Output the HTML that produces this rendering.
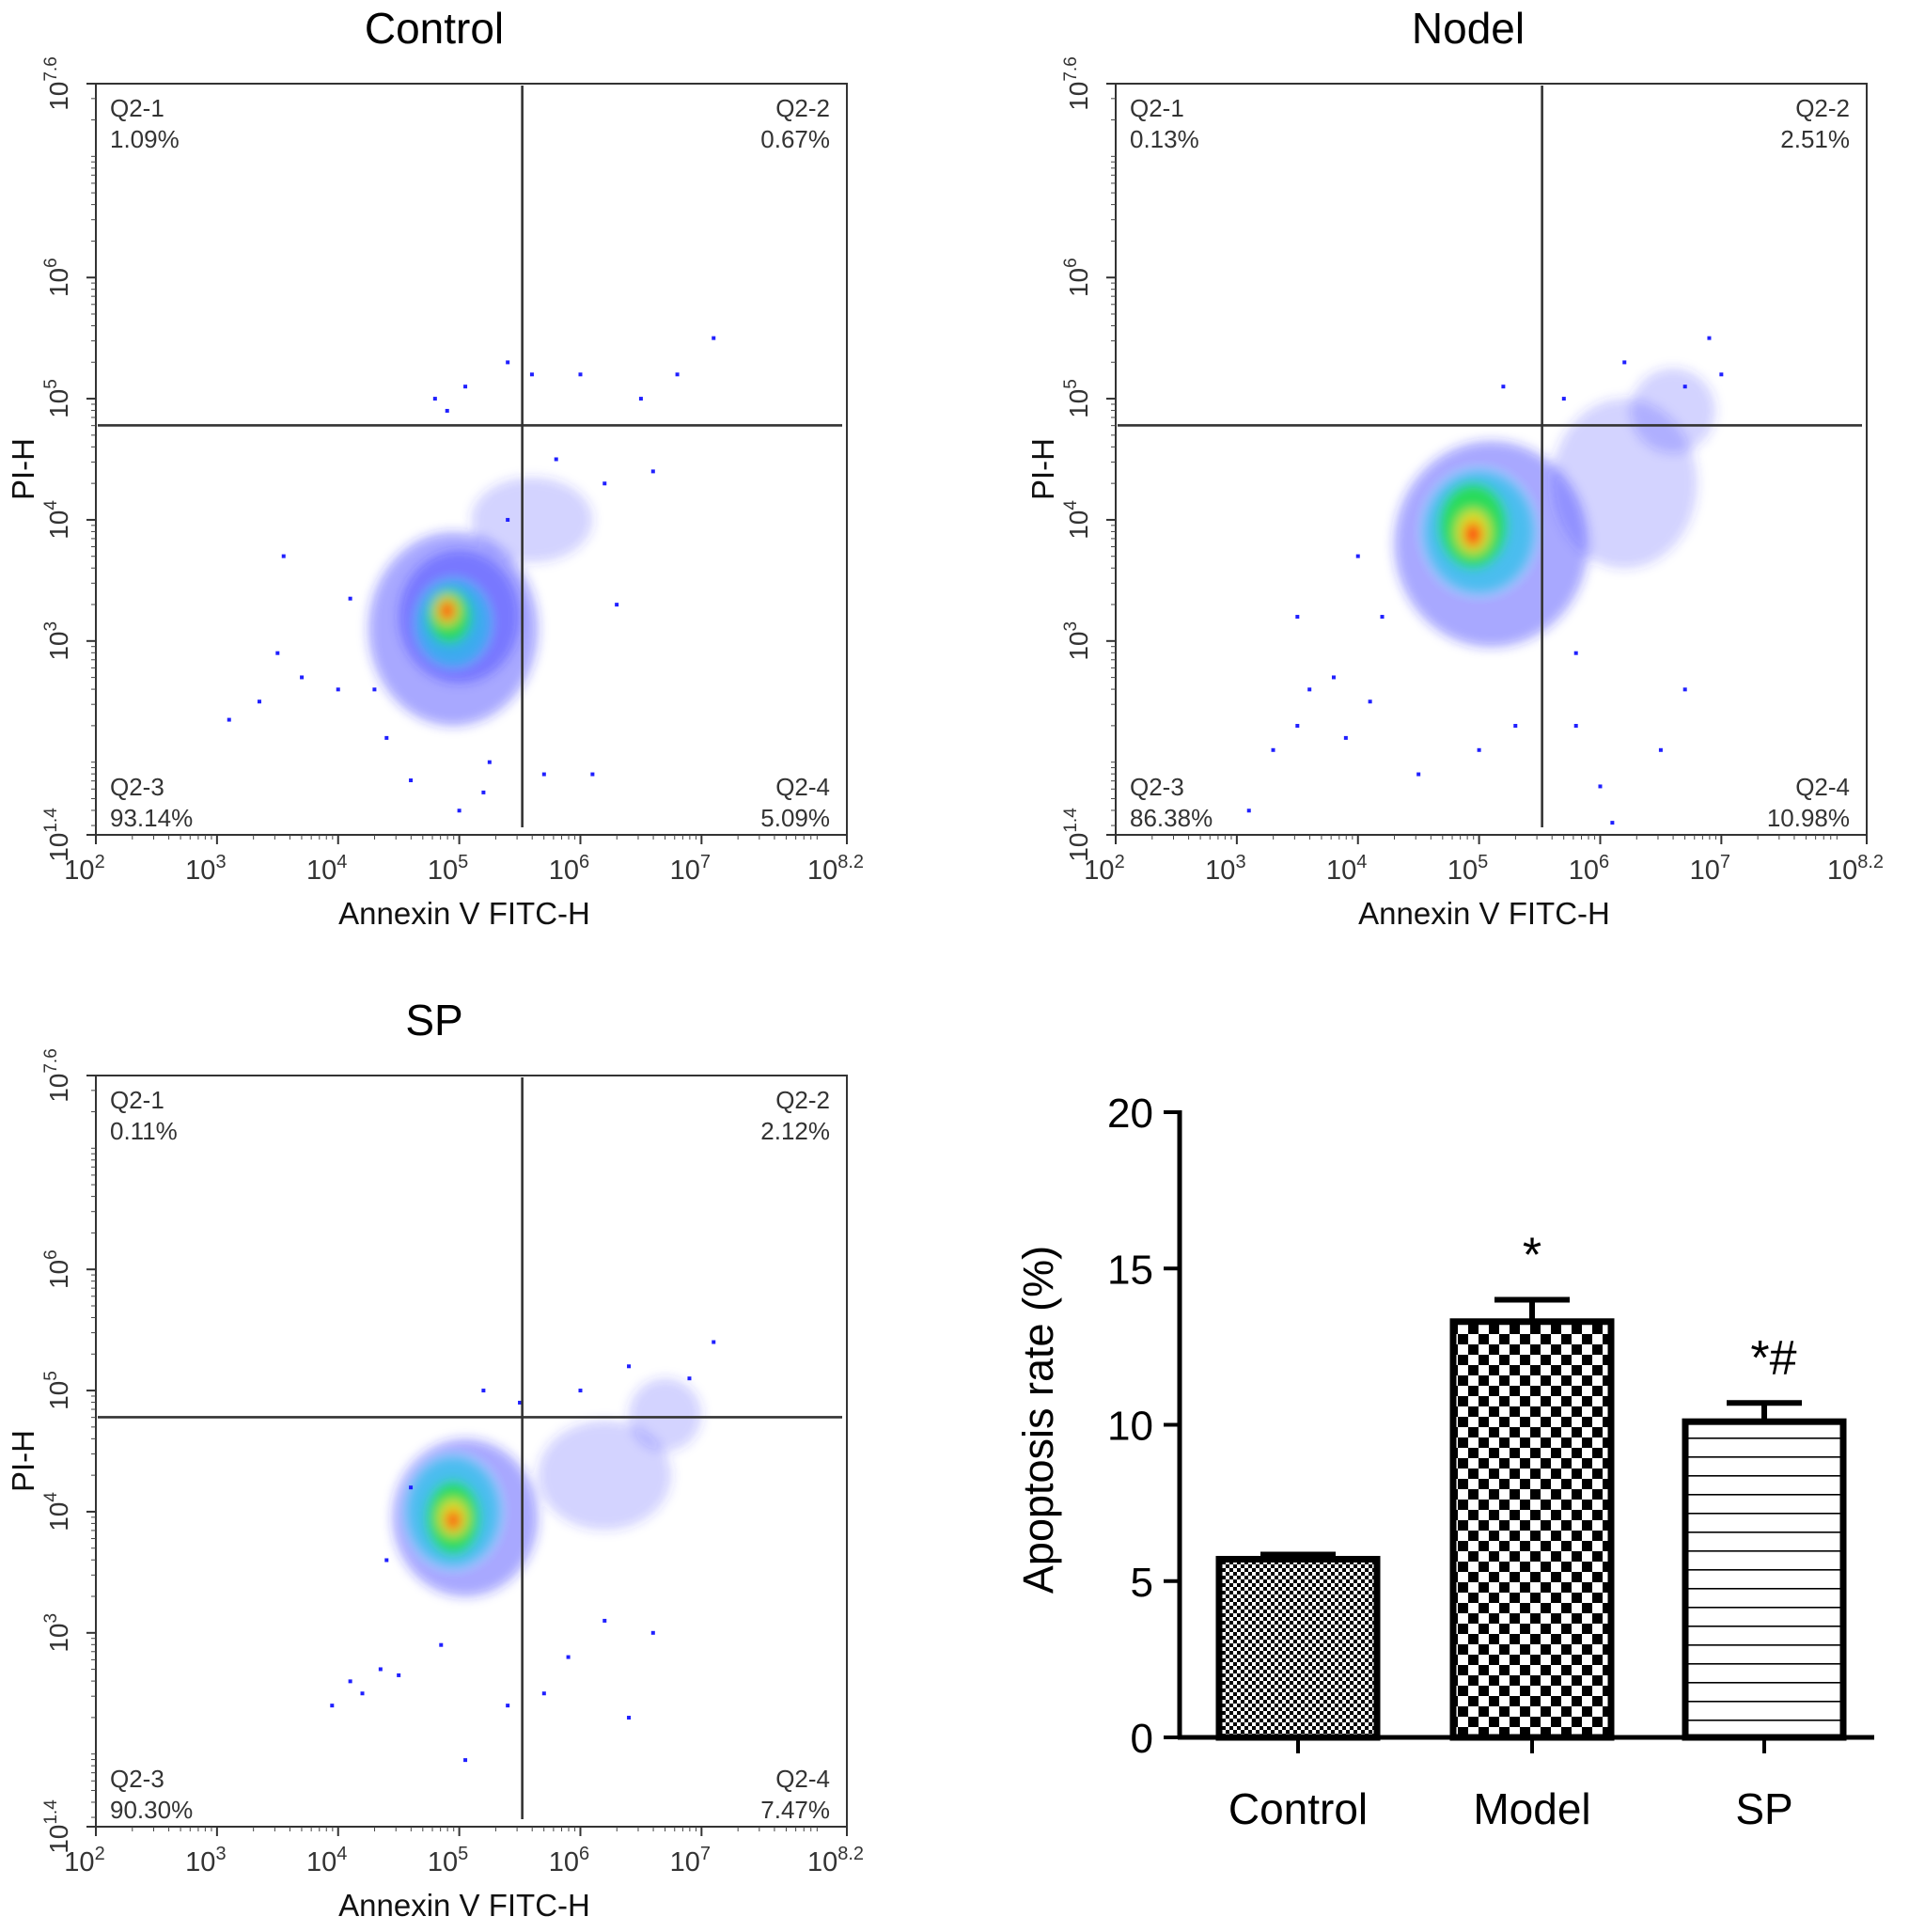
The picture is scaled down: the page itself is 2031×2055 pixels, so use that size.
<!DOCTYPE html>
<html><head><meta charset="utf-8"><style>
html,body{margin:0;padding:0;background:#fff;}
svg{display:block;font-family:"Liberation Sans",Arial,sans-serif;}
</style></head><body>
<svg id="fig" width="2031" height="2055" viewBox="0 0 2031 2055" xmlns="http://www.w3.org/2000/svg">
<defs>
<filter id="soft" x="-50%" y="-50%" width="200%" height="200%"><feGaussianBlur stdDeviation="6"/></filter>
<pattern id="pCtrl" width="8" height="8" patternUnits="userSpaceOnUse"><rect width="8" height="8" fill="#fff"/><rect width="4" height="4" fill="#000"/><rect x="4" y="4" width="4" height="4" fill="#000"/></pattern>
<pattern id="pModel" width="22" height="22" patternUnits="userSpaceOnUse"><rect width="22" height="22" fill="#fff"/><rect x="0" y="0" width="11" height="11" fill="#000"/><rect x="11" y="11" width="11" height="11" fill="#000"/></pattern>
<pattern id="pSP" width="20" height="20" patternUnits="userSpaceOnUse"><rect width="20" height="20" fill="#fff"/><rect y="9" width="20" height="1.6" fill="#000"/></pattern>
</defs>
<g id="root"></g>
</svg>
<script>
// ---------- Flow cytometry data ----------
const flowTitles = ["Control", "Nodel", "SP"];
const quadLabels = ["Q2-1", "Q2-2", "Q2-3", "Q2-4"];
const quadPercents = [
  ["1.09%", "0.67%", "93.14%", "5.09%"],
  ["0.13%", "2.51%", "86.38%", "10.98%"],
  ["0.11%", "2.12%", "90.30%", "7.47%"]
];
const gateX = [5.52, 5.52, 5.52];
const gateY = [4.78, 4.78, 4.78];
// blobs: [logX, logY, radiusX(decades), radiusY(decades), level]
const blobsControl = [[4.95,3.1,0.7,0.8,0],[5.0,3.2,0.5,0.55,0],[4.95,3.15,0.3,0.35,1],[4.92,3.2,0.18,0.22,2],[4.9,3.25,0.1,0.12,3],[4.9,3.25,0.06,0.08,4],[5.6,4.0,0.5,0.35,5]];
const blobsNodel = [[5.1,3.8,0.8,0.85,0],[5.0,3.9,0.45,0.5,1],[4.95,3.95,0.28,0.35,2],[4.95,3.9,0.14,0.18,3],[4.95,3.88,0.07,0.1,4],[6.2,4.3,0.6,0.7,5],[6.6,4.9,0.35,0.35,5]];
const blobsSP = [[5.05,3.95,0.6,0.65,0],[4.95,4.0,0.38,0.45,1],[4.95,3.95,0.22,0.3,2],[4.95,3.95,0.12,0.15,3],[4.95,3.93,0.06,0.08,4],[6.2,4.3,0.55,0.45,5],[6.7,4.8,0.3,0.3,5]];
const ptsControl = [[3.1,2.35],[3.35,2.5],[3.5,2.9],[3.7,2.7],[4.0,2.6],[3.55,3.7],[4.1,3.35],[4.3,2.6],[4.6,1.85],[4.8,5.0],[5.05,5.1],[5.6,5.2],[6.0,5.2],[6.5,5.0],[6.8,5.2],[7.1,5.5],[5.8,4.5],[6.2,4.3],[6.6,4.4],[5.4,5.3],[4.9,4.9],[5.25,2.0],[5.0,1.6],[5.2,1.75],[5.7,1.9],[6.1,1.9],[4.4,2.2],[5.4,4.0],[6.3,3.3]];
const ptsNodel = [[3.1,1.6],[3.3,2.1],[3.5,2.3],[3.6,2.6],[3.8,2.7],[3.9,2.2],[4.1,2.5],[4.2,3.2],[4.0,3.7],[3.5,3.2],[4.5,1.9],[5.0,2.1],[5.3,2.3],[5.8,2.3],[6.0,1.8],[6.5,2.1],[6.1,1.5],[5.7,5.0],[6.2,5.3],[6.9,5.5],[7.0,5.2],[6.7,5.1],[5.2,5.1],[5.8,2.9],[6.7,2.6]];
const ptsSP = [[3.95,2.4],[4.1,2.6],[4.2,2.5],[4.35,2.7],[4.5,2.65],[4.85,2.9],[5.05,1.95],[5.4,2.4],[5.7,2.5],[5.9,2.8],[6.4,2.3],[6.2,3.1],[6.6,3.0],[6.9,5.1],[7.1,5.4],[6.4,5.2],[5.2,5.0],[5.5,4.9],[6.0,5.0],[4.6,4.2],[4.4,3.6]];
const xTickExp = ["2","3","4","5","6","7","8.2"];
const xTickVal = [2,3,4,5,6,7,8.2];
const yTickExp = ["1.4","3","4","5","6","7.6"];
const yTickVal = [1.4,3,4,5,6,7.6];
const flowBlobs = [blobsControl, blobsNodel, blobsSP];
const flowPts = [ptsControl, ptsNodel, ptsSP];
const panelOrigin = [[102,89],[1187,89],[102,1144]];
const titleOffset = [360, 375, 360];

// ---------- Bar chart data ----------
const barCats = ["Control", "Model", "SP"];
const barVals = [5.7, 13.3, 10.1];
const barErr = [0.15, 0.7, 0.6];
const barSig = ["", "*", "*#"];
const barPatterns = ["url(#pCtrl)", "url(#pModel)", "url(#pSP)"];
const barYTicks = [0, 5, 10, 15, 20];

const NS = "http://www.w3.org/2000/svg";
const root = document.getElementById("root");
function mk(tag, attrs, parent, text) {
  const e = document.createElementNS(NS, tag);
  for (const k in attrs) e.setAttribute(k, attrs[k]);
  if (text !== undefined) e.textContent = text;
  (parent || root).appendChild(e);
  return e;
}
const levelColors = ["#2a2aff", "#19c8e6", "#22e040", "#f0e020", "#ff2a10", "#3030ff"];
const levelOps = [0.4, 0.65, 0.85, 0.9, 1, 0.22];

for (let p = 0; p < 3; p++) {
  const [x0, y0] = panelOrigin[p];
  const S = 799;
  const xs = l => x0 + (l - 2) / 6.2 * S;
  const ys = l => y0 + S - (l - 1.4) / 6.2 * S;
  const g = mk("g", {});
  
  
  const t = mk("text", {x: x0 + titleOffset[p], y: y0 - 43, "font-size": 46, "text-anchor": "middle", fill: "#000"}, g, flowTitles[p]);
  
  
  const bg = mk("g", {filter: "url(#soft)"}, g);
  
  
  for (const b of flowBlobs[p]) {
    const rx = b[2] / 6.2 * S, ry = b[3] / 6.2 * S;
    const e = mk("ellipse", {cx: xs(b[0]), cy: ys(b[1]), rx: rx, ry: ry, fill: levelColors[b[4]], "fill-opacity": levelOps[b[4]]}, bg);
    
    
  }
  for (const pt of flowPts[p]) {
    const c = mk("rect", {x: xs(pt[0]) - 2, y: ys(pt[1]) - 2, width: 4, height: 4, fill: "#2020ff"}, g);
    
    
  }
  const box = mk("rect", {x: x0, y: y0, width: S, height: S, fill: "none", stroke: "#333", "stroke-width": 2}, g);
  
  
  const gv = mk("line", {x1: xs(gateX[p]), x2: xs(gateX[p]), y1: y0 + 2, y2: y0 + S - 8, stroke: "#333", "stroke-width": 2.6}, g);
  
  
  const gh = mk("line", {x1: x0 + 2, x2: x0 + S - 5, y1: ys(gateY[p]), y2: ys(gateY[p]), stroke: "#333", "stroke-width": 2.6}, g);
  
  
  const qpos = [[x0 + 15, y0 + 35, "start"], [x0 + S - 18, y0 + 35, "end"], [x0 + 15, y0 + S - 42, "start"], [x0 + S - 18, y0 + S - 42, "end"]];
  for (let q = 0; q < 4; q++) {
    const a = mk("text", {x: qpos[q][0], y: qpos[q][1], "font-size": 26, "text-anchor": qpos[q][2], fill: "#333"}, g, quadLabels[q]);
    
    
    const b = mk("text", {x: qpos[q][0], y: qpos[q][1] + 33, "font-size": 26, "text-anchor": qpos[q][2], fill: "#333"}, g, quadPercents[p][q]);
    
    
  }
  for (let d = 2; d < 8.2; d++) {
    for (let m = 2; m < 10; m++) {
      const l = d + Math.log10(m);
      if (l > 8.2) break;
      mk("line", {x1: xs(l), x2: xs(l), y1: y0 + S, y2: y0 + S + 5, stroke: "#444", "stroke-width": 1}, g);
    }
  }
  for (let i = 0; i < xTickVal.length; i++) {
    mk("line", {x1: xs(xTickVal[i]), x2: xs(xTickVal[i]), y1: y0 + S, y2: y0 + S + 10, stroke: "#333", "stroke-width": 2}, g);
    const tx = mk("text", {x: xs(xTickVal[i]) - 12, y: y0 + S + 47, "font-size": 29, "text-anchor": "middle", fill: "#333"}, g);
    
    
    mk("tspan", {}, tx, "10");
    mk("tspan", {dy: -12, "font-size": 20}, tx, xTickExp[i]);
  }
  const xl = mk("text", {x: x0 + 392, y: y0 + S + 95, "font-size": 33, "text-anchor": "middle", fill: "#111"}, g, "Annexin V FITC-H");
  
  
  for (let d = 1; d < 7.6; d++) {
    for (let m = 1; m < 10; m++) {
      const l = d + Math.log10(m);
      if (l < 1.4 || l > 7.6) continue;
      mk("line", {x1: x0 - 5, x2: x0, y1: ys(l), y2: ys(l), stroke: "#444", "stroke-width": 1}, g);
    }
  }
  for (let i = 0; i < yTickVal.length; i++) {
    mk("line", {x1: x0 - 10, x2: x0, y1: ys(yTickVal[i]), y2: ys(yTickVal[i]), stroke: "#333", "stroke-width": 2}, g);
    const yy = ys(yTickVal[i]);
    const ty = mk("text", {x: 0, y: 0, "font-size": 28, "text-anchor": "middle", fill: "#333", transform: "translate(" + (x0 - 30) + "," + yy + ") rotate(-90)"}, g);
    
    
    mk("tspan", {}, ty, "10");
    mk("tspan", {dy: -12, "font-size": 19}, ty, yTickExp[i]);
  }
  const yl = mk("text", {x: 0, y: 0, "font-size": 33, "text-anchor": "middle", fill: "#111", transform: "translate(" + (x0 - 66) + "," + (y0 + 410) + ") rotate(-90)"}, g, "PI-H");
  
  
}

// ---------- Bar chart ----------
(function () {
  const ax = 1255, y0px = 1848, y20px = 1183, axRight = 1994;
  const yS = v => y0px - v / 20 * (y0px - y20px);
  const barW = 168, centers = [1381, 1630, 1877];
  const g = mk("g", {});
  
  
  for (let i = 0; i < barCats.length; i++) {
    const cx = centers[i];
    const r = mk("rect", {x: cx - barW / 2, y: yS(barVals[i]), width: barW, height: y0px - yS(barVals[i]), fill: barPatterns[i], stroke: "#000", "stroke-width": 7}, g);
    
    
    const top = yS(barVals[i] + barErr[i]);
    const e1 = mk("line", {x1: cx, x2: cx, y1: yS(barVals[i]), y2: top, stroke: "#000", "stroke-width": 6}, g);
    
    
    mk("line", {x1: cx - 40, x2: cx + 40, y1: top, y2: top, stroke: "#000", "stroke-width": 6}, g);
    mk("line", {x1: cx, x2: cx, y1: y0px, y2: y0px + 17, stroke: "#000", "stroke-width": 4}, g);
    const cl = mk("text", {x: cx, y: 1940, "font-size": 46, "text-anchor": "middle", fill: "#000"}, g, barCats[i]);
    
    
    if (barSig[i]) {
      const s = mk("text", {x: cx + (i === 2 ? 10 : 0), y: top - 30, "font-size": 52, "text-anchor": "middle", fill: "#000"}, g, barSig[i]);
      
      
    }
  }
  const yAxis = mk("line", {x1: ax, x2: ax, y1: y20px - 2, y2: y0px + 2, stroke: "#000", "stroke-width": 5}, g);
  
  
  const xAxis = mk("line", {x1: ax - 2, x2: axRight, y1: y0px, y2: y0px, stroke: "#000", "stroke-width": 5}, g);
  
  
  for (const v of barYTicks) {
    mk("line", {x1: ax - 17, x2: ax, y1: yS(v), y2: yS(v), stroke: "#000", "stroke-width": 4}, g);
    const tl = mk("text", {x: ax - 28, y: yS(v) + 16, "font-size": 44, "text-anchor": "end", fill: "#000"}, g, String(v));
    
    
  }
  const yt = mk("text", {x: 0, y: 0, "font-size": 45, "text-anchor": "middle", fill: "#000", transform: "translate(1120,1510) rotate(-90)"}, g, "Apoptosis rate (%)");
  
  
})();
</script>
</body></html>
